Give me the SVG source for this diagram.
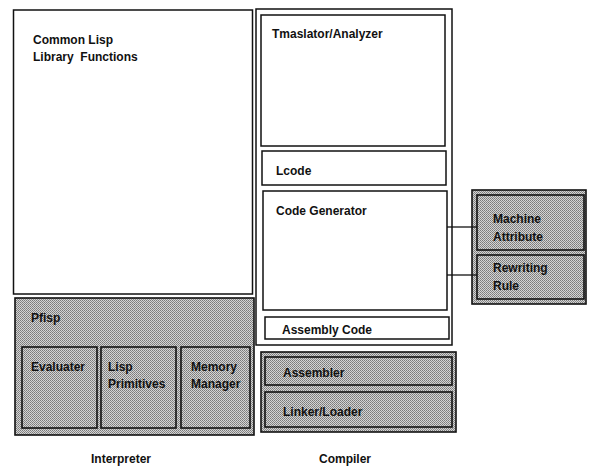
<svg xmlns="http://www.w3.org/2000/svg" width="589" height="466" viewBox="0 0 589 466">
  <defs>
    <!-- halftone screen used for the shaded modules -->
    <pattern id="screen" width="2" height="2" patternUnits="userSpaceOnUse">
      <rect width="2" height="2" fill="#d4d4d4"/>
      <rect x="0" y="0" width="1" height="1" fill="#7a7a7a"/>
      <rect x="1" y="1" width="1" height="1" fill="#8a8a8a"/>
    </pattern>
  </defs>
  <style>
    .box { fill: #ffffff; stroke: #111111; stroke-width: 1.5; }
    .shade { fill: url(#screen); stroke: #111111; stroke-width: 1.6; }
    .link { stroke: #111111; stroke-width: 1.3; fill: none; }
    text { font-family: "Liberation Sans", Arial, sans-serif; font-size: 12px; font-weight: bold; fill: #111111; }
    .cap { font-size: 12px; }
  </style>

  <rect width="589" height="466" fill="#ffffff"/>

  <!-- Interpreter side -->
  <g id="library">
    <rect class="box" x="13.5" y="10" width="239" height="284"/>
    <text x="33" y="44">Common Lisp</text>
    <text x="33" y="61" xml:space="preserve">Library  Functions</text>
  </g>
  <g id="pfisp">
    <rect class="shade" x="15" y="298" width="239" height="137"/>
    <text x="31" y="322">Pfisp</text>
  </g>
  <g id="evaluator">
    <rect class="shade" x="22" y="347" width="75" height="81"/>
    <text x="31" y="371">Evaluater</text>
  </g>
  <g id="primitives">
    <rect class="shade" x="101" y="347" width="75" height="81"/>
    <text x="108" y="371">Lisp</text>
    <text x="108" y="388">Primitives</text>
  </g>
  <g id="memory">
    <rect class="shade" x="181" y="347" width="69" height="81"/>
    <text x="191" y="371">Memory</text>
    <text x="191" y="388">Manager</text>
  </g>

  <!-- Compiler side -->
  <g id="compiler">
    <rect class="box" x="256" y="9" width="196" height="336"/>
  </g>
  <g id="translator">
    <rect class="box" x="261" y="15" width="184" height="131"/>
    <text x="272" y="38">Tmaslator/Analyzer</text>
  </g>
  <g id="lcode">
    <rect class="box" x="262" y="151" width="184" height="34"/>
    <text x="276" y="175">Lcode</text>
  </g>
  <g id="codegen">
    <rect class="box" x="263" y="191" width="184" height="119"/>
    <text x="276" y="215">Code Generator</text>
  </g>
  <g id="asmcode">
    <rect class="box" x="265" y="317" width="184" height="22"/>
    <text x="282" y="334">Assembly Code</text>
  </g>
  <g id="backend">
    <rect class="shade" x="261" y="352" width="195" height="80"/>
  </g>
  <g id="assembler">
    <rect class="shade" x="265" y="357" width="187" height="28"/>
    <text x="283" y="377">Assembler</text>
  </g>
  <g id="linker">
    <rect class="shade" x="265" y="392" width="187" height="35"/>
    <text x="283" y="416">Linker/Loader</text>
  </g>

  <!-- Machine description -->
  <g id="machine">
    <rect class="shade" x="472" y="190" width="114" height="114"/>
  </g>
  <g id="attribute">
    <rect class="shade" x="477" y="195" width="107" height="55"/>
    <text x="493" y="223">Machine</text>
    <text x="493" y="241">Attribute</text>
  </g>
  <g id="rewriting">
    <rect class="shade" x="477" y="255" width="107" height="44"/>
    <text x="493" y="272">Rewriting</text>
    <text x="493" y="290">Rule</text>
  </g>

  <g id="connectors">
    <line class="link" x1="447" y1="227" x2="477" y2="227"/>
    <line class="link" x1="447" y1="275" x2="477" y2="275"/>
  </g>

  <!-- captions -->
  <g id="captions">
    <text class="cap" x="121" y="463" text-anchor="middle" font-weight="normal">Interpreter</text>
    <text class="cap" x="345" y="463" text-anchor="middle">Compiler</text>
  </g>
</svg>
